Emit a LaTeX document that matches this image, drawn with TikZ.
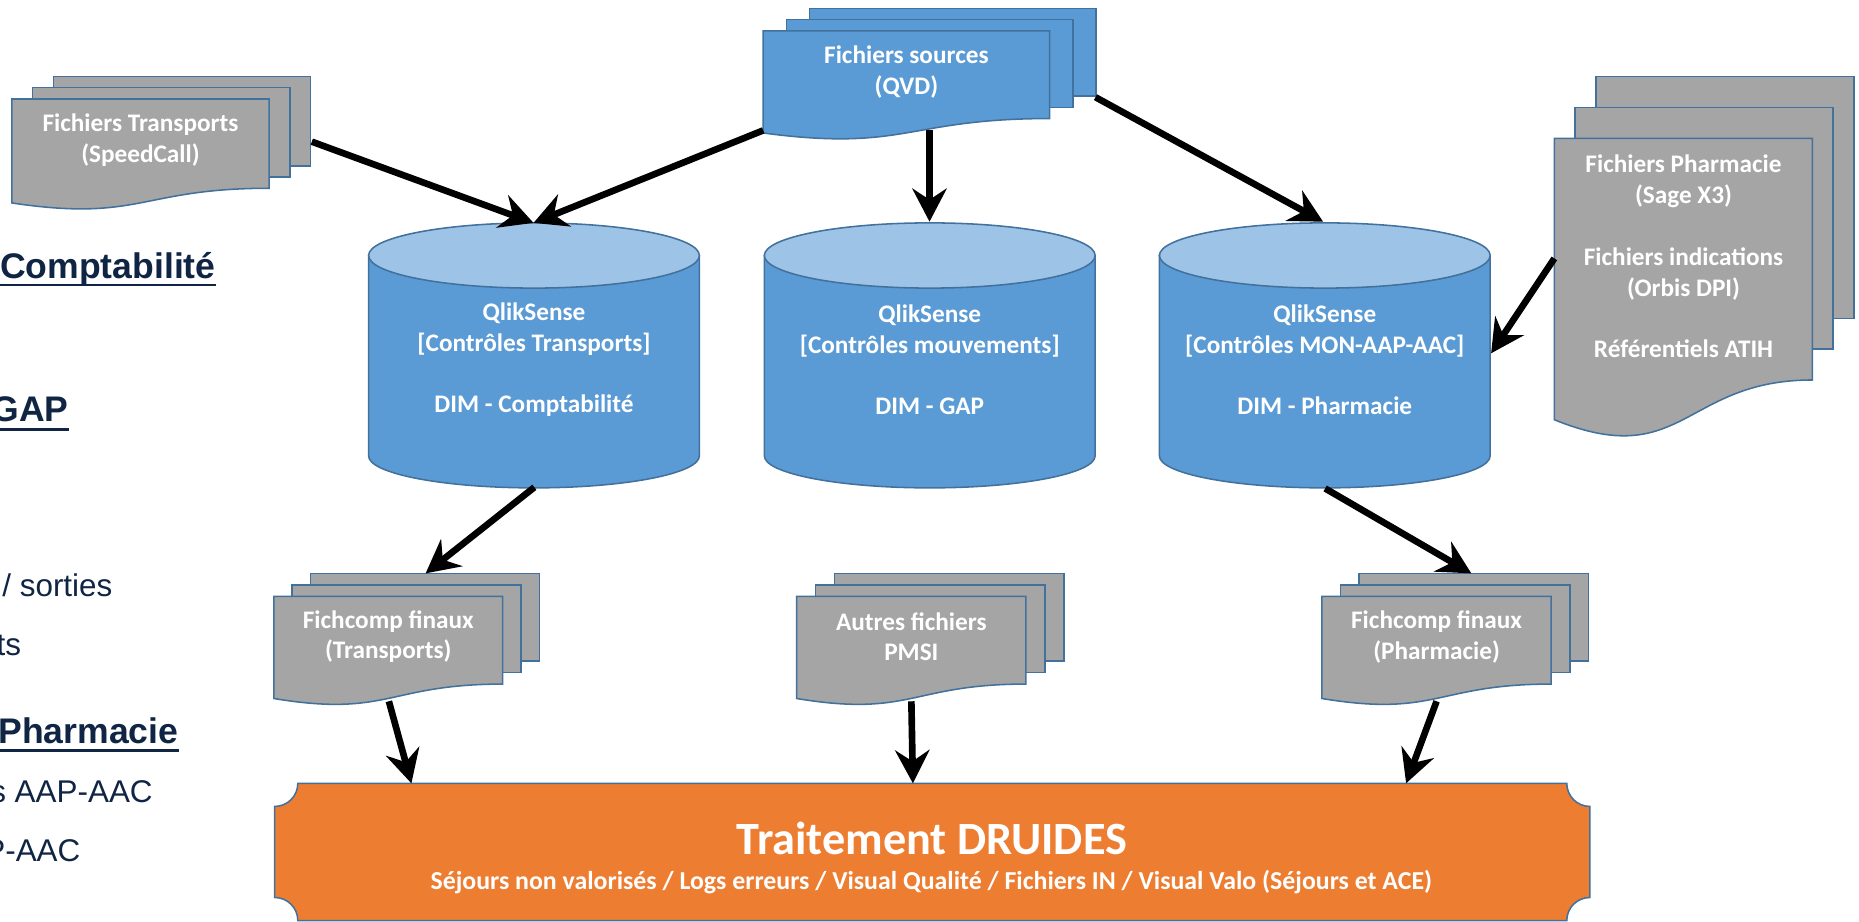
\documentclass[tikz,border=0pt]{standalone}
\usepackage{fontspec}
\setmainfont{Carlito}
\newfontfamily\arialf{Liberation Sans}
\usetikzlibrary{arrows.meta}
\definecolor{bluefill}{HTML}{5B9BD5}
\definecolor{bluetop}{HTML}{9DC3E6}
\definecolor{bordc}{HTML}{41719C}
\definecolor{grayfill}{HTML}{A5A5A5}
\definecolor{orangefill}{HTML}{ED7D31}
\definecolor{navy}{HTML}{102544}
\tikzset{
 shapeline/.style={draw=bordc, line width=1.3pt},
 flow/.style={line width=5.6pt, -{Stealth[length=28pt,width=29pt,inset=9.5pt]}},
 boxtext/.style={text=white, font=\bfseries\fontsize{21.3}{26}\selectfont, align=center, inner sep=0pt},
 lefttitle/.style={text=navy, font=\arialf\bfseries\fontsize{30}{36}\selectfont, inner sep=0pt, anchor=base east},
 leftitem/.style={text=navy, font=\arialf\fontsize{26.5}{32}\selectfont, inner sep=0pt, anchor=base east},
}
% #1 fill, #2 x1, #3 top, #4 w, #5 rect height, #6 dx, #7 dy
\newcommand{\mdocstack}[7]{%
 \pgfmathsetmacro\mdX{#2+2*#6}\pgfmathsetmacro\mdY{#3-2*#7}
 \path[shapeline, fill=#1] (\mdX,\mdY) rectangle ++(#4,#5);
 \pgfmathsetmacro\mdX{#2+#6}\pgfmathsetmacro\mdY{#3-#7}
 \path[shapeline, fill=#1] (\mdX,\mdY) rectangle ++(#4,#5);
 \pgfmathsetmacro\mdR{#2+#4}
 \pgfmathsetmacro\mdM{#2+#4/2}
 \pgfmathsetmacro\mdRB{#3+#5}
 \pgfmathsetmacro\mdC{#3+1.1075*#5/0.802}
 \pgfmathsetmacro\mdLB{#3+0.934*#5/0.802}
 \path[shapeline, fill=#1] (#2,#3) -- (\mdR,#3) -- (\mdR,\mdRB) .. controls (\mdM,\mdRB) and (\mdM,\mdC) .. (#2,\mdLB) -- cycle;
}
% #1 centre x
\newcommand{\cylshape}[1]{%
 \pgfmathsetmacro\cyL{#1-139.5}\pgfmathsetmacro\cyR{#1+139.5}
 \pgfmathsetmacro\cyA{#1-77.05}\pgfmathsetmacro\cyB{#1+77.05}
 \path[shapeline, fill=bluefill] (\cyL,215.5) -- (\cyL,384.5) .. controls (\cyL,399.4) and (\cyA,411.5) .. (#1,411.5) .. controls (\cyB,411.5) and (\cyR,399.4) .. (\cyR,384.5) -- (\cyR,215.5) -- cycle;
 \path[shapeline, fill=bluetop] (#1,215.5) ellipse [x radius=139.5, y radius=27.5];
}
\begin{document}
\begin{tikzpicture}[x=1pt,y=-1pt]
\useasboundingbox (0,0) rectangle (1568,777.67);

% left texts
\node[lefttitle] (lcompta) at (182,234.7) {Comptabilité};
\draw[navy, line width=2.3pt] ([yshift=-5.7pt]lcompta.base west) -- ([yshift=-5.7pt]lcompta.base east);
\node[lefttitle] (lgap) at (58,355.7) {GAP};
\draw[navy, line width=2.3pt] ([yshift=-6.3pt]lgap.base west) -- ([yshift=-6.3pt]lgap.base east);
\node[leftitem] (lsort) at (95,503.3) {/ sorties};
\node[leftitem] (lts) at (18,552.5) {ts};
\node[lefttitle] (lpharma) at (150.7,627) {Pharmacie};
\draw[navy, line width=2.3pt] ([yshift=-6pt]lpharma.base west) -- ([yshift=-6pt]lpharma.base east);
\node[leftitem] (laap) at (129,677) {s AAP-AAC};
\node[leftitem] (lpaac) at (68,726.8) {P-AAC};

% document stacks
\mdocstack{grayfill}{10}{83.5}{217}{75.3}{17.5}{9.5}
\node[boxtext] (transp) at (118.5,118) {Fichiers Transports\\(SpeedCall)};
\mdocstack{bluefill}{643.7}{26}{241.6}{74}{19.5}{9.5}
\node[boxtext] (sources) at (764.5,60.7) {Fichiers sources\\(QVD)};
\mdocstack{grayfill}{1311}{116.7}{217.7}{203.8}{17.5}{26}
\node[boxtext] (pharma) at (1420,216.3) {Fichiers Pharmacie\\(Sage X3)\\[26pt]Fichiers indications\\(Orbis DPI)\\[26pt]Référentiels ATIH};
\mdocstack{grayfill}{231}{503}{193}{74}{15.5}{9.7}
\node[boxtext] (fct) at (327.5,537) {Fichcomp finaux\\(Transports)};
\mdocstack{grayfill}{672}{503}{193.3}{74}{16}{9.7}
\node[boxtext] (autres) at (768.7,537) {Autres fichiers\\PMSI};
\mdocstack{grayfill}{1115}{503}{193.3}{74}{15.7}{9.7}
\node[boxtext] (fcp) at (1211.7,537) {Fichcomp finaux\\(Pharmacie)};

% cylinders
\cylshape{450.4}
\node[boxtext] (cyl1) at (450.4,303.5) {QlikSense\\{[}Contrôles Transports{]}\\[26pt]DIM - Comptabilité};
\cylshape{784.2}
\node[boxtext] (cyl2) at (784.2,303.5) {QlikSense\\{[}Contrôles mouvements{]}\\[26pt]DIM - GAP};
\cylshape{1117.4}
\node[boxtext] (cyl3) at (1117.4,303.5) {QlikSense\\{[}Contrôles MON-AAP-AAC{]}\\[26pt]DIM - Pharmacie};

% orange plaque
\path[shapeline, fill=orangefill] (251.2,660.7) -- (1321.5,660.7) .. controls (1321.5,671.47) and (1330.23,680.2) .. (1341,680.2) -- (1341,757) .. controls (1330.23,757) and (1321.5,765.73) .. (1321.5,776.5) -- (251.2,776.5) .. controls (251.2,765.73) and (242.47,757) .. (231.7,757) -- (231.7,680.2) .. controls (242.47,680.2) and (251.2,671.47) .. cycle;
\node[text=white, font=\bfseries\fontsize{39}{44}\selectfont, inner sep=0pt] (druides) at (786,707.5) {Traitement DRUIDES};
\node[text=white, font=\bfseries\fontsize{21.8}{26}\selectfont, inner sep=0pt] (druidsub) at (785.5,744) {Séjours non valorisés / Logs erreurs / Visual Qualité / Fichiers IN / Visual Valo (Séjours et ACE)};

% connector end points
\coordinate (transpR) at (263,119.5);
\coordinate (sourcesL) at (643.7,110);
\coordinate (sourcesB) at (784,110);
\coordinate (sourcesR) at (924,82);
\coordinate (pharmaL) at (1311,218);
\coordinate (cyl1top) at (450,188);
\coordinate (cyl2top) at (784,187);
\coordinate (cyl3top) at (1116,187);
\coordinate (cyl3side) at (1257.7,298);
\coordinate (cyl1bot) at (450.7,411);
\coordinate (cyl3bot) at (1117.7,412);
\coordinate (fctT) at (359,483.6);
\coordinate (fcpT) at (1241,483.6);
\coordinate (fctB) at (328,591.5);
\coordinate (autresB) at (768.7,591.5);
\coordinate (fcpB) at (1211.7,591.5);
\coordinate (druT1) at (347,660.7);
\coordinate (druT2) at (770,660.7);
\coordinate (druT3) at (1186,660.7);

\draw[flow] (transpR) -- (cyl1top);
\draw[flow] (sourcesL) -- (cyl1top);
\draw[flow] (sourcesB) -- (cyl2top);
\draw[flow] (sourcesR) -- (cyl3top);
\draw[flow] (pharmaL) -- (cyl3side);
\draw[flow] (cyl1bot) -- (fctT);
\draw[flow] (cyl3bot) -- (fcpT);
\draw[flow] (fctB) -- (druT1);
\draw[flow] (autresB) -- (druT2);
\draw[flow] (fcpB) -- (druT3);
\end{tikzpicture}
\end{document}
